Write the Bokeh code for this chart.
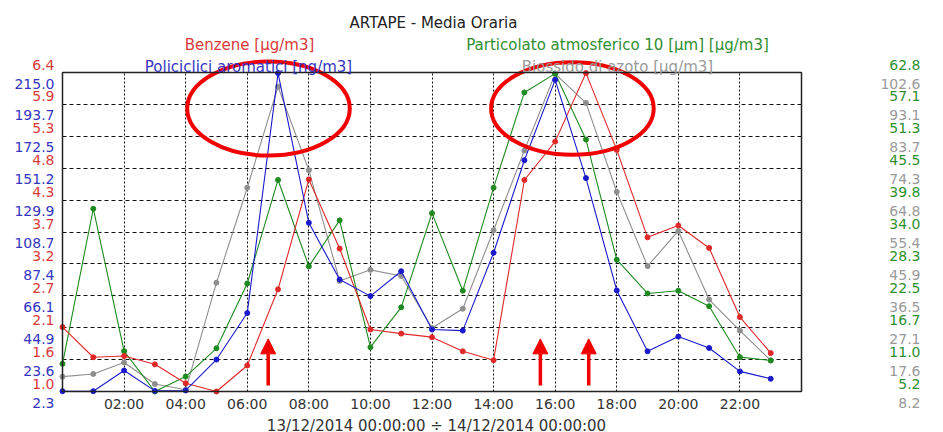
import numpy as np
from bokeh.plotting import figure
from bokeh.models import (Range1d, LinearAxis, FixedTicker, Label, Arrow,
                          NormalHead, BoxAnnotation, Grid)
from bokeh.embed import file_html
from bokeh.resources import INLINE

# ---------------- data ----------------
hours = list(range(24))
x_ticks = [2, 4, 6, 8, 10, 12, 14, 16, 18, 20, 22]
x_tick_labels = ["02:00", "04:00", "06:00", "08:00", "10:00", "12:00",
                 "14:00", "16:00", "18:00", "20:00", "22:00"]

benzene = [2.09, 1.58, 1.60, 1.46, 1.14, 1.00, 1.44, 2.73, 4.59, 3.42, 2.05, 1.98,
           1.92, 1.68, 1.53, 4.58, 5.23, 6.39, 5.09, 3.61, 3.81, 3.43, 2.26, 1.65]
ipa = [2.5, 2.5, 16.3, 2.7, 3.0, 23.6, 54.6, 214.6, 114.8, 77.0, 65.9, 82.5,
       43.6, 42.9, 94.8, 156.5, 210.1, 144.6, 69.7, 29.1, 38.9, 31.3, 15.7, 10.8]
pm10 = [10.2, 38.2, 12.5, 5.2, 7.9, 13.0, 24.7, 43.4, 27.8, 36.1, 13.2, 20.4,
        37.4, 23.4, 42.0, 59.2, 62.6, 50.7, 29.0, 22.9, 23.4, 20.6, 11.4, 10.8]
no2 = [12.6, 13.4, 16.8, 10.4, 8.7, 40.4, 68.5, 98.4, 73.7, 40.9, 44.2, 42.4,
       27.0, 32.7, 55.9, 79.5, 102.2, 93.6, 67.3, 45.3, 55.7, 35.4, 26.2, 17.4]

benzene_labels = ["1.0", "1.6", "2.1", "2.7", "3.2", "3.7", "4.3", "4.8", "5.3", "5.9", "6.4"]
ipa_labels = ["2.3", "23.6", "44.9", "66.1", "87.4", "108.7", "129.9", "151.2", "172.5", "193.7", "215.0"]
pm10_labels = ["5.2", "11.0", "16.7", "22.5", "28.3", "34.0", "39.8", "45.5", "51.3", "57.1", "62.8"]
no2_labels = ["8.2", "17.6", "27.1", "36.5", "45.9", "55.4", "64.8", "74.3", "83.7", "93.1", "102.6"]

title_text = "ARTAPE - Media Oraria"
legend_texts = ["Benzene [µg/m3]", "Policiclici aromatici [ng/m3]",
                "Particolato atmosferico 10 [µm] [µg/m3]", "Biossido di azoto [µg/m3]"]
x_axis_label = "13/12/2014 00:00:00 ÷ 14/12/2014 00:00:00"

# annotations (hand-drawn marks on the original picture), in hours / plot-height fraction
ellipse_cx = [6.69, 16.56]
ellipse_cy = [0.887, 0.887]
ellipse_w = [5.28, 5.28]
ellipse_h = [0.295, 0.29]
arrow_x = [6.68, 15.52, 17.09]
arrow_y0 = [0.019, 0.019, 0.019]
arrow_y1 = [0.165, 0.165, 0.165]

# ---------------- layout / styling ----------------
FONT = "DejaVu Sans"
RED_L, BLUE_L, GREEN_L, GRAY_L = "#e02828", "#1a1acc", "#1f8a1f", "#8e8e8e"
RED_T, BLUE_T, GREEN_T, GRAY_T = "#d83a3a", "#3535c0", "#2f8f2f", "#9a9a9a"
ANNOT = "#f00000"
W, H = 943, 432
BOX_L, BOX_R = 62, 801            # data box, px from the left edge
TOP_PAD = 72                      # header area (title + legend) above the data box, px
BOTTOM_PAD = 41                   # room under the data box for labels and caption, px
FRAME_BOTTOM = H
PLOT_H = FRAME_BOTTOM - TOP_PAD - BOTTOM_PAD   # height of the data box, px
PX_PER_H = (BOX_R - BOX_L) / 24
Y_TOP = 1 + TOP_PAD / PLOT_H
Y_BOT = -BOTTOM_PAD / PLOT_H
X_MIN = -BOX_L / PX_PER_H
X_MAX = 24 + (W - BOX_R) / PX_PER_H
SHIFT_UP_PX, SHIFT_DOWN_PX = 8, 11
LABEL_STANDOFF = 8
RIGHT_LABELS_END_PX = 920         # right edge of the right-hand label column

p = figure(width=W, height=H, output_backend="svg", toolbar_location=None,
           x_range=Range1d(X_MIN, X_MAX), y_range=Range1d(Y_BOT, Y_TOP),
           y_axis_location=None, title_location=None,
           min_border_left=0, min_border_right=0,
           min_border_top=0, min_border_bottom=0)
p.background_fill_color = "white"
p.border_fill_color = "white"
p.outline_line_color = None

# data box
p.add_layout(BoxAnnotation(left=0, right=24, bottom=0, top=1, fill_color=None,
                           fill_alpha=0, line_color="#222222", line_alpha=1,
                           line_width=1.5))

# grids
y_grid = [i / 10 for i in range(11)]
if "cross_bounds" in Grid.properties():
    p.xgrid.ticker = FixedTicker(ticks=x_ticks)
    p.xgrid.cross_bounds = (0, 1)
    p.ygrid.ticker = FixedTicker(ticks=y_grid)
    p.ygrid.cross_bounds = (0, 24)
    for g, dash in ((p.xgrid, "2 2"), (p.ygrid, "4 3")):
        g.grid_line_color = "#111111"
        g.grid_line_dash = dash
else:
    p.xgrid.grid_line_color = None
    p.ygrid.grid_line_color = None
    p.segment(x0=x_ticks, y0=0, x1=x_ticks, y1=1, line_color="#111111",
              line_dash="2 2", line_width=1)
    p.segment(x0=0, y0=y_grid, x1=24, y1=y_grid, line_color="#111111",
              line_dash="4 3", line_width=1)

# x axis, anchored on the bottom edge of the data box
xa = p.xaxis[0]
xa.fixed_location = 0
xa.ticker = FixedTicker(ticks=x_ticks)
xa.major_label_overrides = dict(zip(x_ticks, x_tick_labels))
xa.axis_line_color = None
xa.major_tick_line_color = None
xa.minor_tick_line_color = None
xa.major_tick_out = 0
xa.major_tick_in = 0
xa.major_label_standoff = 4
xa.major_label_text_font = FONT
xa.major_label_text_font_size = "14px"
xa.major_label_text_color = "#333333"

extra = {}
right_loc = (RIGHT_LABELS_END_PX + LABEL_STANDOFF - BOX_L) / PX_PER_H

def value_axis(name, labels, above, loc, color):
    lo, hi = float(labels[0]), float(labels[-1])
    span = hi - lo
    extra[name] = Range1d(lo + span * Y_BOT, lo + span * Y_TOP)
    s = (SHIFT_UP_PX if above else -SHIFT_DOWN_PX) / PLOT_H * span
    extra[name + "_ax"] = Range1d(lo - s + span * Y_BOT, lo - s + span * Y_TOP)
    ticks = [float(t) for t in np.linspace(lo, hi, len(labels))]
    return LinearAxis(y_range_name=name + "_ax", ticker=FixedTicker(ticks=ticks),
                      major_label_overrides=dict(zip(ticks, labels)),
                      fixed_location=loc, axis_line_color=None,
                      major_tick_line_color=None, minor_tick_line_color=None,
                      major_tick_out=0, major_tick_in=0,
                      major_label_standoff=LABEL_STANDOFF,
                      major_label_text_font=FONT, major_label_text_font_size="14px",
                      major_label_text_color=color)

axes = [value_axis("benzene", benzene_labels, True, 0, RED_T),
        value_axis("ipa", ipa_labels, False, 0, BLUE_T),
        value_axis("pm10", pm10_labels, True, right_loc, GREEN_T),
        value_axis("no2", no2_labels, False, right_loc, GRAY_T)]
p.extra_y_ranges = extra
for ax in axes:
    p.add_layout(ax, "left")

# series
for vals, name, col in [(no2, "no2", GRAY_L), (pm10, "pm10", GREEN_L),
                        (benzene, "benzene", RED_L), (ipa, "ipa", BLUE_L)]:
    p.line(hours, vals, y_range_name=name, line_color=col, line_width=1.1)
    p.scatter(hours, vals, y_range_name=name, marker="circle", size=5,
              fill_color=col, line_color=col)

# header / caption texts: (text, centre x px, centre y px from top, colour, size)
text_items = [
    (title_text, 433, 22, "#222222", "15px"),
    (legend_texts[0], 249, 44, RED_T, "15px"),
    (legend_texts[1], 248, 66, BLUE_T, "15px"),
    (legend_texts[2], 617, 44, GREEN_T, "15px"),
    (legend_texts[3], 617, 66, GRAY_T, "15px"),
    (x_axis_label, 436, 425, "#333333", "15px"),
]
for txt, x, y, col, fs in text_items:
    p.add_layout(Label(x=x, y=FRAME_BOTTOM - y, x_units="screen", y_units="screen",
                       text=txt, text_align="center", text_baseline="middle",
                       text_font=FONT, text_font_size=fs, text_color=col))

# red hand-drawn ellipses
p.ellipse(x=ellipse_cx, y=ellipse_cy, width=ellipse_w, height=ellipse_h,
          fill_color=None, line_color=ANNOT, line_width=4)

# red arrows
for xa_, y0, y1 in zip(arrow_x, arrow_y0, arrow_y1):
    p.add_layout(Arrow(end=NormalHead(size=15, fill_color=ANNOT, line_color=ANNOT),
                       x_start=xa_, y_start=y0, x_end=xa_, y_end=y1,
                       line_color=ANNOT, line_width=3.5))

open("out.html", "w").write(file_html(p, INLINE))
